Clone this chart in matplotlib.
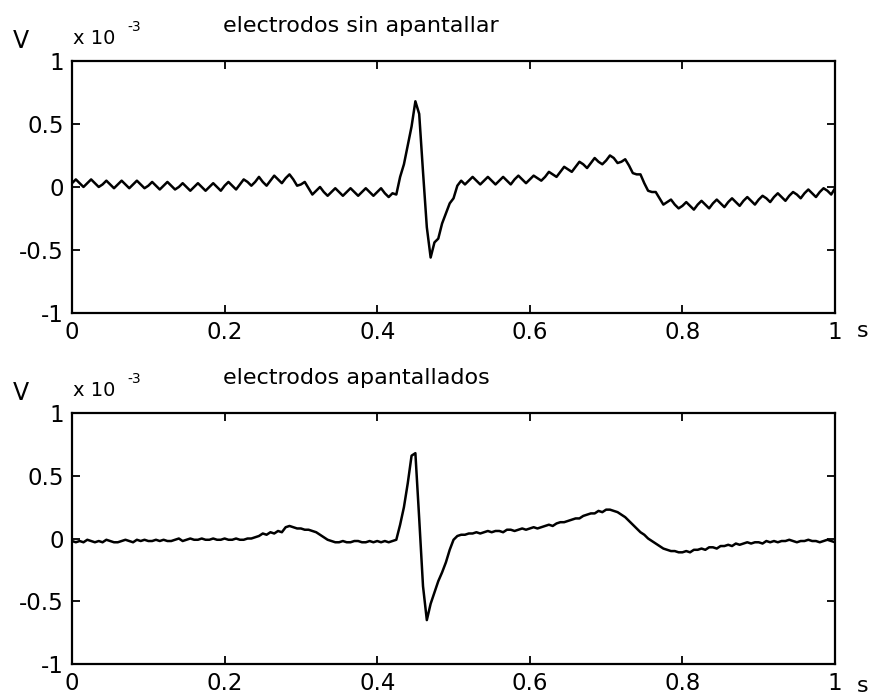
import numpy as np
import matplotlib
matplotlib.use("Agg")
import matplotlib.pyplot as plt

# tiempo de muestreo: 0 a 1 s cada 5 ms
t = np.linspace(0, 1, 201)

# ECG con electrodos sin apantallar (mV), con rizado de red de 50 Hz
ecg_sin_apantallar = [
    0.03, 0.06, 0.03, 0.00, 0.03, 0.06, 0.03, 0.00,
    0.02, 0.05, 0.02, -0.01, 0.02, 0.05, 0.02, -0.01,
    0.02, 0.05, 0.02, -0.01, 0.01, 0.04, 0.01, -0.02,
    0.01, 0.04, 0.01, -0.02, 0.00, 0.03, 0.00, -0.03,
    0.00, 0.03, 0.00, -0.03, 0.00, 0.03, 0.00, -0.03,
    0.01, 0.04, 0.01, -0.02, 0.02, 0.06, 0.04, 0.01,
    0.04, 0.08, 0.04, 0.01, 0.05, 0.09, 0.06, 0.03,
    0.07, 0.10, 0.06, 0.01, 0.02, 0.04, -0.01, -0.06,
    -0.03, 0.00, -0.04, -0.07, -0.04, -0.01, -0.04, -0.07,
    -0.04, -0.01, -0.04, -0.07, -0.04, -0.01, -0.04, -0.07,
    -0.04, -0.01, -0.05, -0.08, -0.05, -0.06, 0.08, 0.18,
    0.33, 0.48, 0.68, 0.58, 0.12, -0.32, -0.56, -0.44,
    -0.41, -0.29, -0.21, -0.13, -0.09, 0.01, 0.05, 0.02,
    0.05, 0.08, 0.05, 0.02, 0.05, 0.08, 0.05, 0.02,
    0.05, 0.08, 0.05, 0.02, 0.06, 0.09, 0.06, 0.03,
    0.06, 0.09, 0.07, 0.05, 0.08, 0.12, 0.10, 0.08,
    0.12, 0.16, 0.14, 0.12, 0.16, 0.20, 0.18, 0.15,
    0.19, 0.23, 0.20, 0.18, 0.21, 0.25, 0.23, 0.19,
    0.20, 0.22, 0.17, 0.11, 0.10, 0.10, 0.03, -0.03,
    -0.04, -0.04, -0.09, -0.14, -0.12, -0.10, -0.14, -0.17,
    -0.15, -0.12, -0.15, -0.18, -0.14, -0.11, -0.14, -0.17,
    -0.13, -0.10, -0.13, -0.16, -0.12, -0.09, -0.12, -0.15,
    -0.11, -0.08, -0.11, -0.14, -0.10, -0.07, -0.09, -0.12,
    -0.08, -0.05, -0.08, -0.11, -0.07, -0.04, -0.06, -0.09,
    -0.05, -0.02, -0.05, -0.08, -0.04, -0.01, -0.03, -0.06,
    -0.01,
]

# ECG con electrodos apantallados (mV)
ecg_apantallados = [
    -0.02, -0.03, -0.02, -0.03, -0.01, -0.02, -0.03, -0.02,
    -0.03, -0.01, -0.02, -0.03, -0.03, -0.02, -0.01, -0.02,
    -0.03, -0.01, -0.02, -0.01, -0.02, -0.02, -0.01, -0.02,
    -0.01, -0.02, -0.02, -0.01, 0.00, -0.02, -0.01, 0.00,
    -0.01, -0.01, 0.00, -0.01, -0.01, 0.00, -0.01, -0.01,
    0.00, -0.01, -0.01, 0.00, -0.01, -0.01, 0.00, 0.00,
    0.01, 0.02, 0.04, 0.03, 0.05, 0.04, 0.06, 0.05,
    0.09, 0.10, 0.09, 0.08, 0.08, 0.07, 0.07, 0.06,
    0.05, 0.03, 0.01, -0.01, -0.02, -0.03, -0.03, -0.02,
    -0.03, -0.03, -0.02, -0.02, -0.03, -0.03, -0.02, -0.03,
    -0.02, -0.03, -0.02, -0.03, -0.02, -0.01, 0.11, 0.25,
    0.44, 0.66, 0.68, 0.16, -0.38, -0.65, -0.52, -0.43,
    -0.34, -0.27, -0.19, -0.09, -0.01, 0.02, 0.03, 0.03,
    0.04, 0.04, 0.05, 0.04, 0.05, 0.06, 0.05, 0.06,
    0.06, 0.05, 0.07, 0.07, 0.06, 0.07, 0.08, 0.07,
    0.08, 0.09, 0.08, 0.09, 0.10, 0.11, 0.10, 0.12,
    0.13, 0.13, 0.14, 0.15, 0.16, 0.16, 0.18, 0.19,
    0.20, 0.20, 0.22, 0.21, 0.23, 0.23, 0.22, 0.21,
    0.19, 0.17, 0.14, 0.11, 0.08, 0.05, 0.03, 0.00,
    -0.02, -0.04, -0.06, -0.08, -0.09, -0.10, -0.10, -0.11,
    -0.11, -0.10, -0.11, -0.09, -0.09, -0.08, -0.09, -0.07,
    -0.07, -0.08, -0.06, -0.06, -0.05, -0.06, -0.04, -0.05,
    -0.04, -0.03, -0.04, -0.03, -0.03, -0.04, -0.02, -0.03,
    -0.02, -0.03, -0.02, -0.02, -0.01, -0.02, -0.03, -0.02,
    -0.02, -0.01, -0.02, -0.02, -0.03, -0.02, -0.01, -0.02,
    -0.03,
]

titulos = ["electrodos sin apantallar", "electrodos apantallados"]
xticks = [0, 0.2, 0.4, 0.6, 0.8, 1]
xtick_labels = ["0", "0.2", "0.4", "0.6", "0.8", "1"]
yticks = [-1, -0.5, 0, 0.5, 1]
ytick_labels = ["-1", "-0.5", "0", "0.5", "1"]

fig = plt.figure(figsize=(8.71, 7.00), dpi=100)
ejes = [
    fig.add_axes([0.0827, 0.5529, 0.876, 0.36]),
    fig.add_axes([0.0827, 0.0514, 0.876, 0.3586]),
]

for ax, senal in zip(ejes, [ecg_sin_apantallar, ecg_apantallados]):
    ax.plot(t, senal, color="black", linewidth=1.8)
    ax.set_xlim(0, 1)
    ax.set_ylim(-1, 1)
    ax.set_xticks(xticks)
    ax.set_xticklabels(xtick_labels)
    ax.set_yticks(yticks)
    ax.set_yticklabels(ytick_labels)
    # marcas hacia dentro en los cuatro lados, estilo MATLAB
    ax.tick_params(direction="in", length=6, width=1.3, top=True, right=True,
                   labelsize=16.5, pad=6)
    for lado in ax.spines.values():
        lado.set_linewidth(1.6)

# textos de cada grafica (unidades, factor de escala y titulo)
for ax, titulo, y_s in zip(ejes, titulos, [0.518, 0.012]):
    pos = ax.get_position()
    fig.text(0.015, pos.y1 + 0.012, "V", fontsize=17, ha="left", va="bottom")
    fig.text(0.084, pos.y1 + 0.018, "x 10", fontsize=14, ha="left", va="bottom")
    fig.text(0.146, pos.y1 + 0.038, "-3", fontsize=10, ha="left", va="bottom")
    fig.text(0.256, pos.y1 + 0.036, titulo, fontsize=16, ha="left", va="bottom")
    fig.text(0.984, y_s, "s", fontsize=16, ha="left", va="baseline")

plt.savefig("out.png", dpi=100)
